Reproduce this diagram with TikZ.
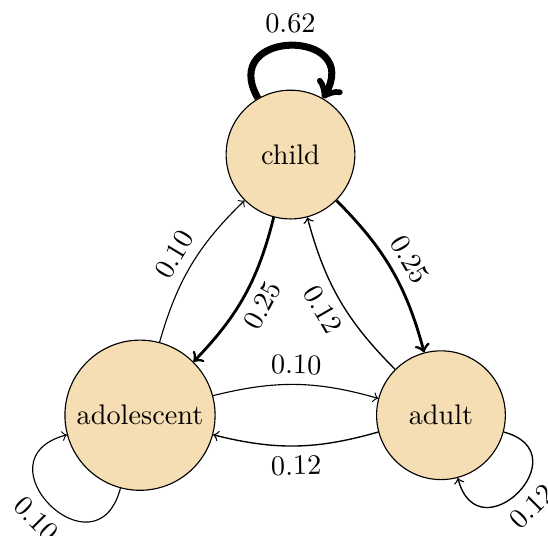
\documentclass[tikz,border=0pt]{standalone}
\usepackage{tikz}
\definecolor{wheat}{RGB}{245,222,179}

\begin{document}
\begin{tikzpicture}[state/.style={circle, draw, fill=wheat, minimum size=1.6cm},
  prob/.style={auto, sloped}]
\useasboundingbox (-1.74,-1.49) rectangle (5.07,5.16);

\node [state] (adolescent) at (0,0) {adolescent};
\node [state] (adult) at (3.74,0) {adult};
\node [state] (child) at (60:3.74) {child};

% loops
\draw [->, line width=2.48pt] (child) to [out=120, in=60, looseness=3.2] node [prob] {0.62} (child);
\draw [->, line width=0.4pt] (adolescent) to [out=255, in=195, looseness=3.2] node [prob, swap] {0.10} (adolescent);
\draw [->, line width=0.48pt] (adult) to [out=-15, in=-75, looseness=3.2] node [prob, swap] {0.12} (adult);

% transitions
\draw [->, line width=1pt] (child) to [bend left=15] node [prob, swap] {0.25} (adolescent);
\draw [->, line width=1pt] (child) to [bend left=15] node [prob] {0.25} (adult);
\draw [->, line width=0.4pt] (adolescent) to [bend left=15] node [prob] {0.10} (child);
\draw [->, line width=0.48pt] (adult) to [bend left=15] node [prob, swap] {0.12} (child);
\draw [->, line width=0.4pt] (adolescent) to [bend left=15] node [prob] {0.10} (adult);
\draw [->, line width=0.48pt] (adult) to [bend left=15] node [prob, swap] {0.12} (adolescent);
\end{tikzpicture}
\end{document}
